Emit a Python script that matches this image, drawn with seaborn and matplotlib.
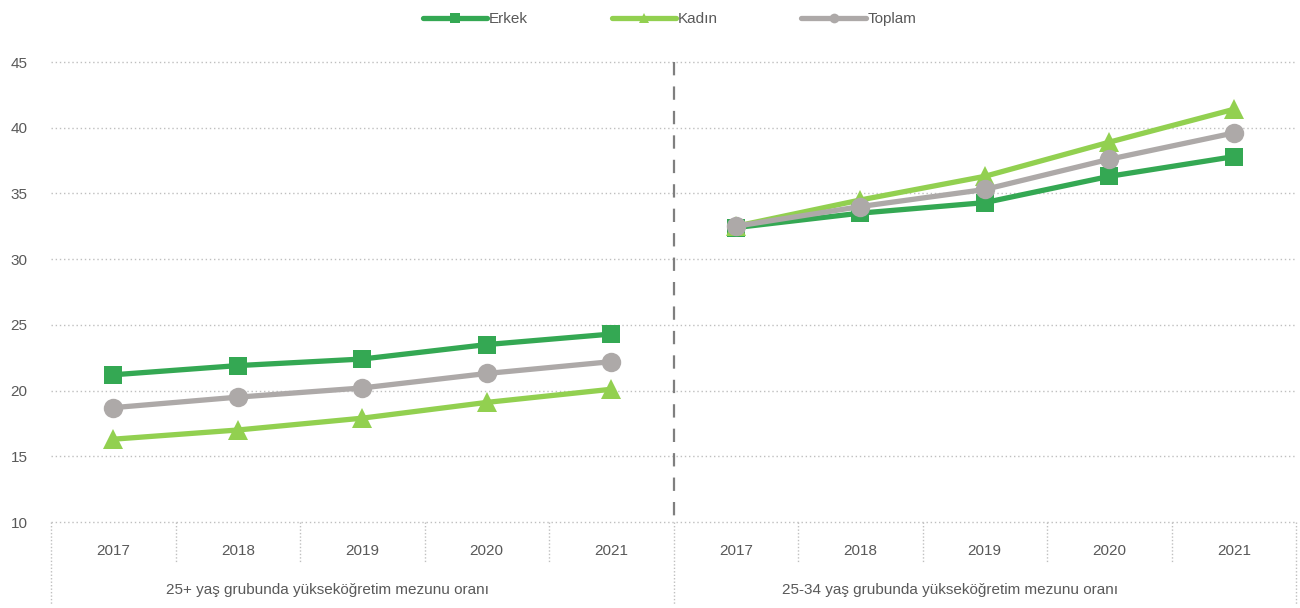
import matplotlib
matplotlib.use("Agg")
import matplotlib.pyplot as plt
import matplotlib.transforms as mtransforms
from matplotlib.lines import Line2D
import seaborn as sns
import pandas as pd

# ---- data ----
years = ["2017", "2018", "2019", "2020", "2021"]
groups = ["25+ yaş grubunda yükseköğretim mezunu oranı",
          "25-34 yaş grubunda yükseköğretim mezunu oranı"]
series = ["Erkek", "Kadın", "Toplam"]

erkek_25 = [21.2, 21.9, 22.4, 23.5, 24.3]
kadin_25 = [16.3, 17.0, 17.9, 19.1, 20.1]
toplam_25 = [18.7, 19.5, 20.2, 21.3, 22.2]

erkek_2534 = [32.4, 33.5, 34.3, 36.3, 37.8]
kadin_2534 = [32.5, 34.5, 36.3, 38.9, 41.4]
toplam_2534 = [32.5, 34.0, 35.3, 37.6, 39.6]

yticks = [10, 15, 20, 25, 30, 35, 40, 45]

colors = {"Erkek": "#34A853", "Kadın": "#92D050", "Toplam": "#ADA9A8"}
markers = {"Erkek": "s", "Kadın": "^", "Toplam": "o"}
msizes = {"Erkek": 13, "Kadın": 14, "Toplam": 14}

values = {
    ("Erkek", 0): erkek_25, ("Kadın", 0): kadin_25, ("Toplam", 0): toplam_25,
    ("Erkek", 1): erkek_2534, ("Kadın", 1): kadin_2534, ("Toplam", 1): toplam_2534,
}

rows = []
for (s, g), vals in values.items():
    for i, v in enumerate(vals):
        rows.append({"seri": s, "grup": g, "pos": g * len(years) + i, "deger": v})
df = pd.DataFrame(rows)

sns.set_theme(style="white")
FONT = ["Liberation Sans Narrow", "Liberation Sans", "DejaVu Sans"]
plt.rcParams["font.family"] = FONT
TXT = "#595959"

fig = plt.figure(figsize=(13, 6.08), dpi=100)
ax = fig.add_axes([51 / 1300, 1 - 522 / 608, 1245 / 1300, 460 / 608])

for z, s in enumerate(series):
    for g in range(2):
        sub = df[(df.seri == s) & (df.grup == g)]
        sns.lineplot(data=sub, x="pos", y="deger", ax=ax, color=colors[s],
                     marker=markers[s], markersize=msizes[s], markeredgewidth=0,
                     linewidth=3.8, zorder=3 + z, legend=False)

n = len(years) * 2
ax.set_xlim(-0.5, n - 0.5)
ax.set_ylim(10, 45)
ax.set_yticks(yticks)
ax.set_yticklabels([str(t) for t in yticks], color=TXT, fontsize=11)
ax.tick_params(axis="y", length=0, pad=17)
ax.set_xticks(range(n))
ax.set_xticklabels(years * 2, color=TXT, fontsize=11)
ax.tick_params(axis="x", length=0, pad=16)
ax.set_xlabel("")
ax.set_ylabel("")
for sp in ax.spines.values():
    sp.set_visible(False)
ax.grid(axis="y", color="#BFBFBF", linestyle=(0, (1, 2)), linewidth=1)
ax.grid(axis="x", visible=False)
for gl in ax.get_ygridlines():
    gl.set_clip_on(False)

# group divider (drawn from top down)
ax.plot([4.5, 4.5], [45, 10], color="#7F7F7F", linestyle=(0, (6, 5)),
        linewidth=1.6, zorder=2, clip_on=False)

# category separators below axis
trans = mtransforms.blended_transform_factory(ax.transData, ax.transAxes)
for k in range(n + 1):
    xk = k - 0.5
    y_end = -0.18 if k % len(years) == 0 else -0.0895
    ax.plot([xk, xk], [0, y_end], transform=trans, clip_on=False,
            color="#BFBFBF", linestyle=(0, (1, 1.5)), linewidth=1)

for g, lab in enumerate(groups):
    ax.text(g * len(years) + 1.72, -0.148, lab, transform=trans, ha="center",
            va="center", color=TXT, fontsize=11)

handles = [Line2D([0], [0], color=colors[s], marker=markers[s], markersize=7,
                  markeredgewidth=0, linewidth=3.8, solid_capstyle="round")
           for s in series]
fig.legend(handles, series, loc="upper center", bbox_to_anchor=(0.515, 1.003),
           ncol=3, frameon=False, handlelength=4.2, columnspacing=5.5,
           handletextpad=0.1, prop={"size": 11, "family": FONT},
           labelcolor=TXT)

fig.savefig("out.png", dpi=100)
